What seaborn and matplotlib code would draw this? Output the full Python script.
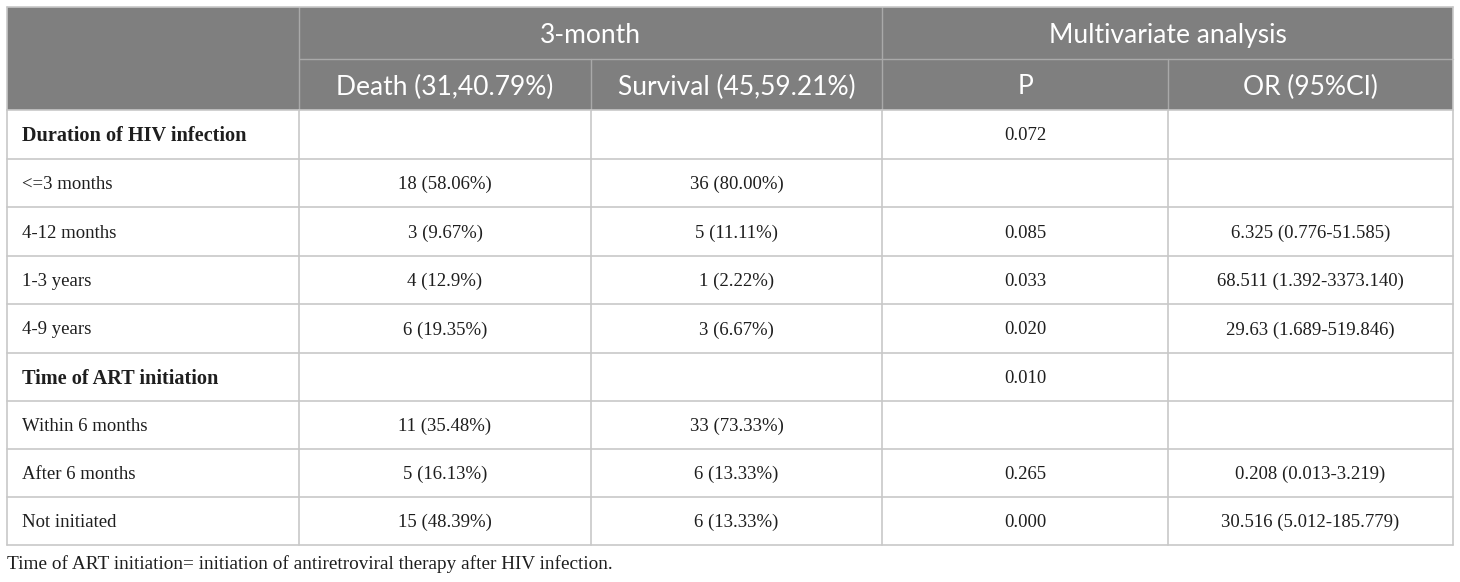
import matplotlib
matplotlib.use("Agg")
import matplotlib.pyplot as plt
import seaborn as sns
import pandas as pd
from matplotlib.patches import Rectangle

sns.set_theme(style="white")

# ---- data ----
group_header = ["3-month", "Multivariate analysis"]
col_headers = ["Death (31,40.79%)", "Survival (45,59.21%)", "P", "OR (95%CI)"]
row_labels = ["Duration of HIV infection", "<=3 months", "4-12 months", "1-3 years", "4-9 years",
              "Time of ART initiation", "Within 6 months", "After 6 months", "Not initiated"]
row_is_section = [True, False, False, False, False, True, False, False, False]
death = ["", "18 (58.06%)", "3 (9.67%)", "4 (12.9%)", "6 (19.35%)",
         "", "11 (35.48%)", "5 (16.13%)", "15 (48.39%)"]
survival = ["", "36 (80.00%)", "5 (11.11%)", "1 (2.22%)", "3 (6.67%)",
            "", "33 (73.33%)", "6 (13.33%)", "6 (13.33%)"]
p_values = ["0.072", "", "0.085", "0.033", "0.020", "0.010", "", "0.265", "0.000"]
or_ci = ["", "", "6.325 (0.776-51.585)", "68.511 (1.392-3373.140)", "29.63 (1.689-519.846)",
         "", "", "0.208 (0.013-3.219)", "30.516 (5.012-185.779)"]
caption = "Time of ART initiation= initiation of antiretroviral therapy after HIV infection."

table = pd.DataFrame({"label": row_labels, "death": death, "survival": survival,
                      "p": p_values, "or": or_ci, "section": row_is_section})

# ---- layout ----
W, H = 1460, 582
col_edges = [7, 299, 591, 882, 1168, 1453]
row_edges = [7, 59, 110, 159, 207, 256, 304, 353, 401, 449, 497, 545]
header_bg = "#7f7f7f"
header_line = "#a9a9a9"
body_line = "#c8c8c8"
text_color = "#1e1e1e"
sans = ["Lato", "DejaVu Sans"]
serif = ["Liberation Serif", "DejaVu Serif"]
hfs = 19
bfs = 13.5
bold_fs = 14.6
hdy = 2.5   # header text vertical nudge
bdy = 1.5   # body text vertical nudge

fig = plt.figure(figsize=(W / 100, H / 100), dpi=100)
ax = fig.add_axes([0, 0, 1, 1])
ax.set_xlim(0, W)
ax.set_ylim(H, 0)
ax.axis("off")

# header background
ax.add_patch(Rectangle((col_edges[0], row_edges[0]), col_edges[-1] - col_edges[0],
                       row_edges[2] - row_edges[0], facecolor=header_bg, edgecolor="none", zorder=1))

# header inner lines
ax.plot([col_edges[1], col_edges[-1]], [row_edges[1], row_edges[1]], color=header_line, lw=1, zorder=2)
for i, c in enumerate(col_edges[1:-1], start=1):
    top = row_edges[0] if i in (1, 3) else row_edges[1]
    ax.plot([c, c], [top, row_edges[2]], color=header_line, lw=1, zorder=2)

# body lines
for r in row_edges[2:]:
    ax.plot([col_edges[0], col_edges[-1]], [r, r], color=body_line, lw=1.2, zorder=2)
for c in col_edges:
    ax.plot([c, c], [row_edges[2], row_edges[-1]], color=body_line, lw=1.2, zorder=2)
ax.plot([col_edges[0], col_edges[0]], [row_edges[0], row_edges[2]], color=body_line, lw=1.2, zorder=2)
ax.plot([col_edges[-1], col_edges[-1]], [row_edges[0], row_edges[2]], color=body_line, lw=1.2, zorder=2)
ax.plot([col_edges[0], col_edges[-1]], [row_edges[0], row_edges[0]], color=body_line, lw=1.2, zorder=2)

# header text
ymid1 = (row_edges[0] + row_edges[1]) / 2 + hdy
ymid2 = (row_edges[1] + row_edges[2]) / 2 + hdy
ax.text((col_edges[1] + col_edges[3]) / 2, ymid1, group_header[0], ha="center", va="center",
        color="white", fontsize=hfs, family=sans, zorder=3)
ax.text((col_edges[3] + col_edges[5]) / 2, ymid1, group_header[1], ha="center", va="center",
        color="white", fontsize=hfs, family=sans, zorder=3)
for j, h in enumerate(col_headers):
    ax.text((col_edges[j + 1] + col_edges[j + 2]) / 2, ymid2, h, ha="center", va="center",
            color="white", fontsize=hfs, family=sans, zorder=3)

# body text
for i, row in table.iterrows():
    y = (row_edges[i + 2] + row_edges[i + 3]) / 2 + bdy
    ax.text(col_edges[0] + 15, y, row["label"], ha="left", va="center", color=text_color,
            fontsize=bold_fs if row["section"] else bfs, family=serif,
            fontweight="bold" if row["section"] else "normal", zorder=3)
    for j, key in enumerate(["death", "survival", "p", "or"]):
        if row[key]:
            ax.text((col_edges[j + 1] + col_edges[j + 2]) / 2, y, row[key], ha="center", va="center",
                    color=text_color, fontsize=bfs, family=serif, zorder=3)

ax.text(col_edges[0], 563 + bdy, caption, ha="left", va="center", color=text_color,
        fontsize=13.9, family=serif, zorder=3)

fig.savefig("out.png", dpi=100)
